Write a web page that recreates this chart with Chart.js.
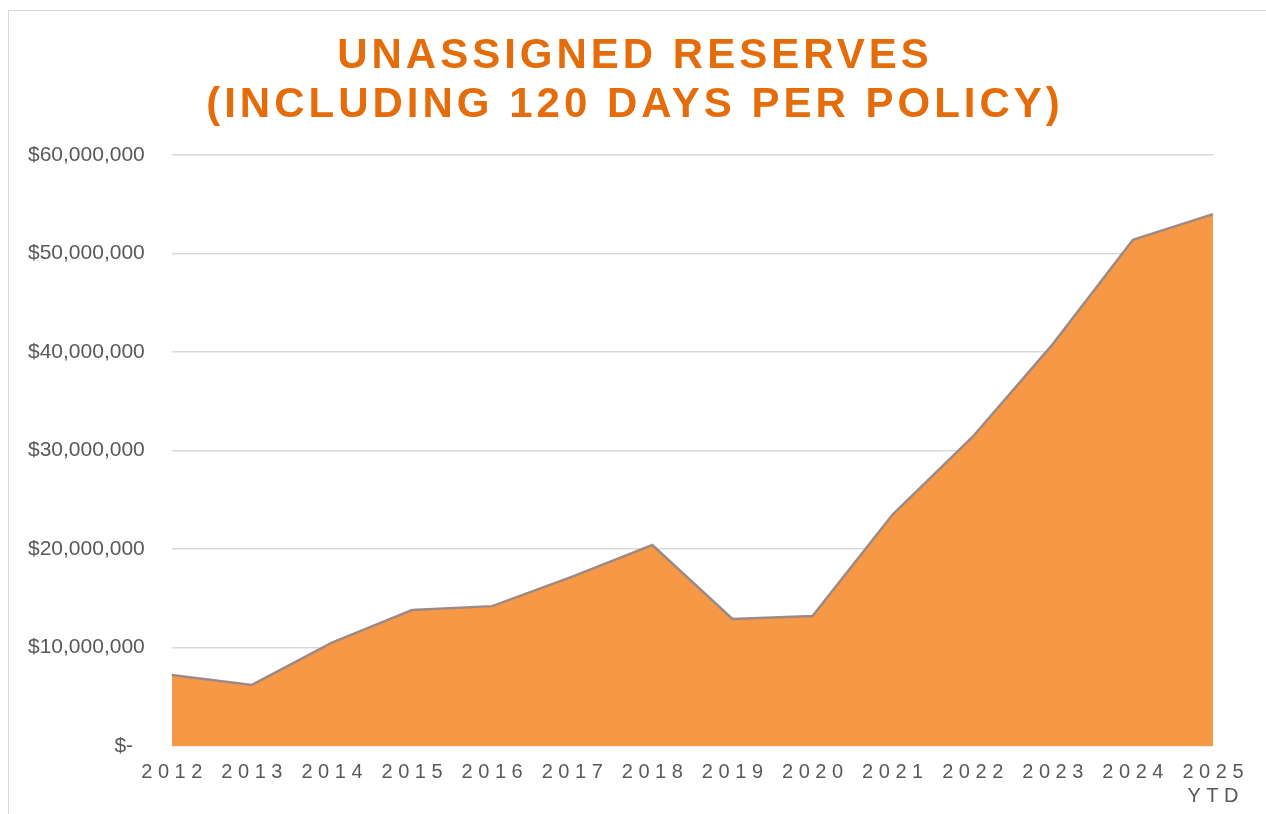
<!DOCTYPE html>
<html>
<head>
<meta charset="utf-8">
<script src="https://cdn.jsdelivr.net/npm/chart.js@4"></script>
<style>
    body { margin: 0; background: #fff; overflow: hidden; }
    #frame { position: absolute; left: 8px; top: 10px; width: 1300px; height: 900px; border: 1px solid #d9d9d9; }
    #title {
        position: absolute; left: 0; top: 29px; width: 1270px; text-align: center;
        font-family: "Liberation Sans", Arial, sans-serif; font-weight: bold; font-size: 42px;
        line-height: 49px; letter-spacing: 4px; color: #E46C0A;
    }
    #wrap { position: absolute; left: 0; top: 0; width: 1266px; height: 822px; }
</style>
</head>
<body>
<div id="frame"></div>
<div id="wrap"><canvas id="reserves"></canvas></div>
<div id="title">UNASSIGNED RESERVES<br>(INCLUDING 120 DAYS PER POLICY)</div>
<script>
// years on the x axis, last one is year-to-date
const years = ['2012', '2013', '2014', '2015', '2016', '2017', '2018', '2019', '2020', '2021', '2022', '2023', '2024', ['2025', 'YTD']];
// unassigned reserves in dollars
const reserves = [7200000, 6200000, 10500000, 13800000, 14200000, 17200000, 20400000, 12900000, 13200000, 23500000, 31400000, 40800000, 51400000, 54000000];
const y_ticks = [0, 10000000, 20000000, 30000000, 40000000, 50000000, 60000000];

const canvas = document.getElementById('reserves');

new Chart(canvas, {
    type: 'line',
    data: {
        labels: years,
        datasets: [{
            data: reserves,
            fill: 'origin',
            backgroundColor: '#F69846',
            borderColor: '#9c8a86',
            borderWidth: 2.5,
            pointRadius: 0,
            tension: 0,
        }]
    },
    options: {
        responsive: true,
        maintainAspectRatio: false,
        animation: false,
        layout: { padding: { top: 155, left: 1, right: 53, bottom: 0 } },
        plugins: {
            legend: { display: false },
            tooltip: { enabled: false },
        },
        scales: {
            x: {
                offset: false,
                grid: { display: false, drawTicks: false },
                border: { display: false },
                ticks: {
                    color: '#595959',
                    padding: 14,
                    maxRotation: 0,
                    autoSkip: false,
                    font: { family: 'Liberation Sans', size: 20 },
                    callback: function (value) {
                        const label = this.getLabelForValue(value);
                        const spaced = s => s.split('').join(' ');
                        return Array.isArray(label) ? label.map(spaced) : spaced(label);
                    },
                },
            },
            y: {
                min: 0,
                max: 60000000,
                afterBuildTicks: axis => { axis.ticks = y_ticks.map(v => ({ value: v })); },
                grid: { color: '#d9d9d9', lineWidth: 1.5, drawTicks: false },
                border: { display: false },
                ticks: {
                    color: '#595959',
                    padding: 27,
                    font: { family: 'Liberation Sans', size: 21 },
                    callback: v => v === 0 ? '$-  ' : '$' + v.toLocaleString('en-US'),
                },
            },
        },
    },
});
</script>
</body>
</html>
